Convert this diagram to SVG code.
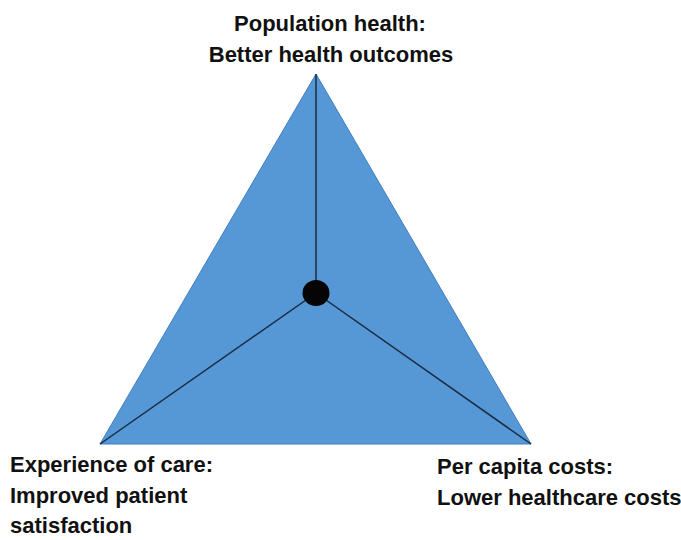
<svg xmlns="http://www.w3.org/2000/svg" width="681" height="540" viewBox="0 0 681 540">
<style>
.lbl{font-family:"Liberation Sans",Arial,sans-serif;font-weight:bold;font-size:22px;fill:#111}
.ln{stroke:#1a2a40;stroke-width:1.5;fill:none}
</style>
<rect width="681" height="540" fill="#ffffff"/>
<g id="triangle">
<polygon points="316,74 100,444 531,444" fill="#5697d5" stroke="#3f7fc0" stroke-width="1"/>
</g>
<g id="connectors">
<line class="ln" x1="316" y1="74" x2="316" y2="293"/>
<line class="ln" x1="316" y1="293" x2="100" y2="444"/>
<line class="ln" x1="316" y1="293" x2="531" y2="444"/>
</g>
<g id="center">
<ellipse cx="316" cy="293" rx="13.5" ry="13" fill="#050505"/>
</g>
<g id="top-label">
<text class="lbl" x="330" y="31" text-anchor="middle">Population health:</text>
<text class="lbl" x="331" y="62" text-anchor="middle">Better health outcomes</text>
</g>
<g id="left-label">
<text class="lbl" x="10" y="472">Experience of care:</text>
<text class="lbl" x="10" y="503">Improved patient</text>
<text class="lbl" x="10" y="533">satisfaction</text>
</g>
<g id="right-label">
<text class="lbl" x="437" y="474">Per capita costs:</text>
<text class="lbl" x="437" y="505">Lower healthcare costs</text>
</g>
</svg>
